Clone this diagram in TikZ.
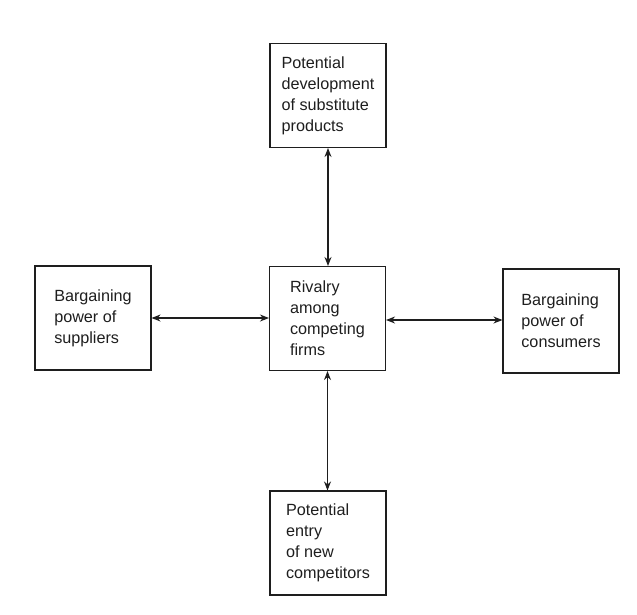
\documentclass[tikz,border=0pt]{standalone}
\usepackage{fontspec}
\setmainfont{Liberation Sans}
\usetikzlibrary{arrows.meta,calc,positioning}
\definecolor{forceink}{RGB}{30,30,30}

\begin{document}
\begin{tikzpicture}[>={Stealth[length=9pt,width=7pt]},x=1pt,y=-1pt,line cap=round,
 forcebox/.style={draw=forceink,line width=1.1pt,minimum width=116pt,minimum height=104pt,
 align=left,inner sep=0pt,font=\fontsize{16.2}{21}\selectfont,text=forceink},
 forcelink/.style={<->,draw=forceink,line width=1.1pt}]
\useasboundingbox (0,0) rectangle (637,614);
\node[forcebox] (subst) at (328,95.5) {Potential\\development\\of substitute\\products};
\node[forcebox] (supp) at (93,318) {Bargaining\\power of\\suppliers};
\node[forcebox] (rival) at (327.5,318.5) {Rivalry\\among\\competing\\firms};
\node[forcebox] (cons) at (561,321) {Bargaining\\power of\\consumers};
\node[forcebox] (entry) at (328,543) {Potential\\entry\\of new\\competitors};
\draw[forcelink] (subst.south) -- (subst.south |- rival.north);
\draw[forcelink] (supp.east) -- (supp.east -| rival.west);
\draw[forcelink] ($(rival.east)+(0,1.5)$) -- ($(rival.east -| cons.west)+(0,1.5)$);
\draw[forcelink] (rival.south) -- (rival.south |- entry.north);
\end{tikzpicture}
\end{document}
